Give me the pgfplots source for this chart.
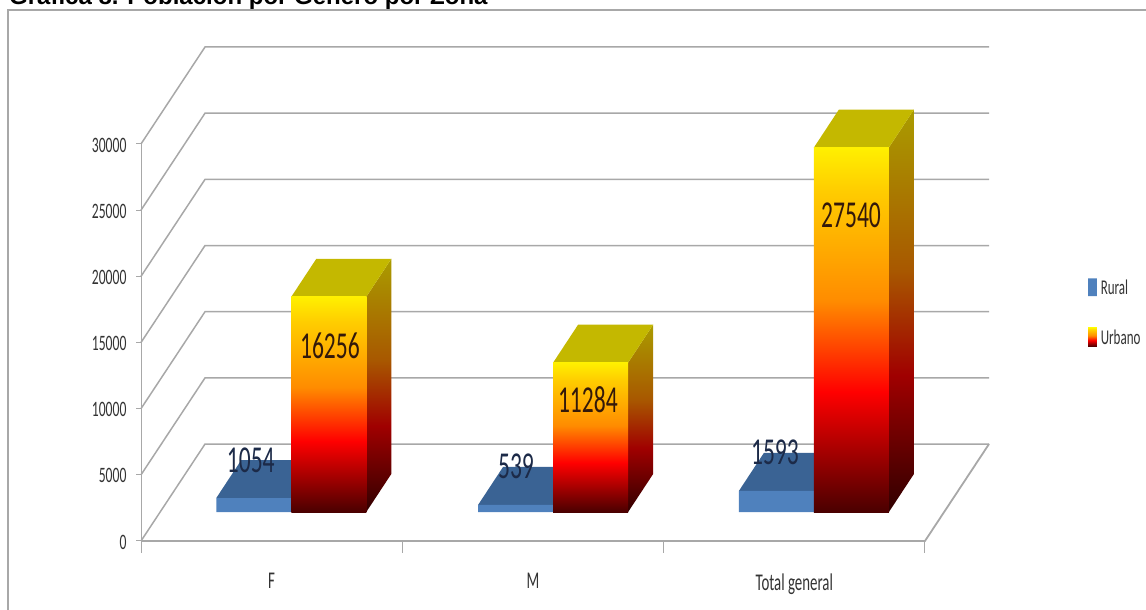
\documentclass[border=0pt]{standalone}
\usepackage{pgfplots}
\pgfplotsset{compat=1.18}
\usepackage{fontspec}
\setmainfont{Carlito}
\newfontfamily\narrow[FakeStretch=0.62]{Carlito}
\newfontfamily\titlefont{Liberation Sans}

\definecolor{gridgray}{HTML}{A8A8A8}
\definecolor{ruralfront}{HTML}{4F81BD}
\definecolor{ruraltop}{HTML}{3A6394}
\definecolor{urbantop}{HTML}{C4B800}
\definecolor{ruraltext}{HTML}{1C2A48}
\definecolor{urbantext}{HTML}{33190A}
\definecolor{uf0}{HTML}{4A0000}
\definecolor{uf1}{HTML}{FF0000}
\definecolor{uf2}{HTML}{FF8C00}
\definecolor{uf3}{HTML}{FFCC00}
\definecolor{uf4}{HTML}{FFF000}
\definecolor{us0}{HTML}{300000}
\definecolor{us1}{HTML}{A00000}
\definecolor{us2}{HTML}{A85800}
\definecolor{us3}{HTML}{AA9C00}

% Colour ramps for the urban column; the path is fitted to the 25bp--75bp band.
\pgfdeclareverticalshading{urbanfront}{100bp}{
  color(0bp)=(uf0);
  color(25bp)=(uf0);
  color(41.5bp)=(uf1);
  color(54bp)=(uf2);
  color(69bp)=(uf3);
  color(75bp)=(uf4);
  color(100bp)=(uf4)}
\pgfdeclareverticalshading{urbanside}{100bp}{
  color(0bp)=(us0);
  color(25bp)=(us0);
  color(42bp)=(us1);
  color(55bp)=(us2);
  color(75bp)=(us3);
  color(100bp)=(us3)}

% One oblique wall line and its back-wall continuation
\newcommand{\wallline}[1]{%
  \edef\ya{\the\numexpr #1\relax}\edef\yb{\the\numexpr #1+7326\relax}%
  \addplot[gridgray,line width=1.5pt,forget plot] coordinates {(0,\ya)(0.245,\yb)(3.245,\yb)};}

% Rural and urban columns of one category: left x, rural value, urban value
\newcommand{\columns}[3]{%
  \pgfmathsetmacro\xa{#1}%
  \pgfmathsetmacro\xb{#1+0.287}%
  \pgfmathsetmacro\xc{#1+0.574}%
  \pgfmathsetmacro\xab{#1+0.0957}%
  \pgfmathsetmacro\xbb{#1+0.287+0.0957}%
  \pgfmathsetmacro\xcb{#1+0.574+0.0957}%
  \edef\rf{\the\numexpr #2+2191\relax}\edef\rb{\the\numexpr #2+5063\relax}%
  \edef\uf{\the\numexpr #3+2191\relax}\edef\ub{\the\numexpr #3+5063\relax}%
  \addplot[fill=ruraltop,draw=none,forget plot] coordinates {(\xa,\rf)(\xb,\rf)(\xbb,\rb)(\xab,\rb)(\xa,\rf)};
  \addplot[fill=ruralfront,draw=none,forget plot] coordinates {(\xa,2191)(\xb,2191)(\xb,\rf)(\xa,\rf)(\xa,2191)};
  \addplot[shade,shading=urbanside,draw=none,forget plot] coordinates {(\xc,2191)(\xcb,5063)(\xcb,\ub)(\xc,\uf)(\xc,2191)};
  \addplot[fill=urbantop,draw=none,forget plot] coordinates {(\xb,\uf)(\xc,\uf)(\xcb,\ub)(\xbb,\ub)(\xb,\uf)};
  \addplot[shade,shading=urbanfront,draw=none,forget plot] coordinates {(\xb,2191)(\xc,2191)(\xc,\uf)(\xb,\uf)(\xb,2191)};}

\begin{document}
\begin{tikzpicture}[x=1pt,y=1pt]
\useasboundingbox (0,0) rectangle (1146,610);
% page heading and chart frame
\node[anchor=base west,inner sep=0pt,font=\titlefont\bfseries\fontsize{24}{24}\selectfont] at (9,605.5) {Gráfica 8. Población por Género por Zona};
\draw[gridgray,line width=1.6pt] (8,0) -- (8,600) -- (1146,600);
\begin{axis}[
  at={(141pt,69pt)},anchor=south west,
  scale only axis,width=848pt,height=494pt,
  xmin=0,xmax=3.245,ymin=0,ymax=37326,
  clip=false,
  axis line style={draw=none},
  scaled y ticks=false,
  xtick={0.5,1.5,2.5},
  xticklabels={F,M,Total general},
  xtick style={draw=none},
  xticklabel style={yshift=-24pt,font=\narrow\fontsize{24}{24}\selectfont},
  ytick={0,5000,...,30000},
  ytick pos=left,
  ytick style={gridgray,line width=1pt},
  yticklabel style={xshift=-6pt,yshift=-1pt,font=\narrow\fontsize{22}{22}\selectfont},
  major tick length=5pt,
  tick align=outside,
  /pgf/number format/assume math mode=true,
  /pgf/number format/1000 sep={},
  tick label style={text=black!80},
]
% walls and floor
\addplot[gridgray,line width=1pt,forget plot] coordinates {(0,0)(0,30000)};
\wallline{0}\wallline{5000}\wallline{10000}\wallline{15000}
\wallline{20000}\wallline{25000}\wallline{30000}
\addplot[gridgray,line width=1.8pt,forget plot] coordinates {(0,0)(3,0)(3.245,7326)};
% category separators below the floor
\addplot[gridgray,line width=1pt,forget plot] coordinates {(0,0)(0,-900)};
\addplot[gridgray,line width=1pt,forget plot] coordinates {(1,0)(1,-900)};
\addplot[gridgray,line width=1pt,forget plot] coordinates {(2,0)(2,-900)};
\addplot[gridgray,line width=1pt,forget plot] coordinates {(3,0)(3,-900)};
% columns
\columns{0.288}{1054}{16256}
\columns{1.290}{539}{11284}
\columns{2.288}{1593}{27540}
% value labels
\tikzset{vlabel/.style={inner sep=0pt,font=\narrow\fontsize{38}{38}\selectfont}}
\node[vlabel,text=ruraltext] at (axis cs:0.42,6121) {1054};
\node[vlabel,text=urbantext] at (axis cs:0.723,14737) {16256};
\node[vlabel,text=ruraltext] at (axis cs:1.435,5667) {539};
\node[vlabel,text=urbantext] at (axis cs:1.710,10655) {11284};
\node[vlabel,text=ruraltext] at (axis cs:2.426,6725) {1593};
\node[vlabel,text=urbantext] at (axis cs:2.717,24635) {27540};
% legend
\addplot[fill=ruralfront,draw=none,forget plot] coordinates {(3.624,18500)(3.658,18500)(3.658,19850)(3.624,19850)(3.624,18500)};
\addplot[shade,shading=urbanfront,draw=none,forget plot] coordinates {(3.624,14700)(3.658,14700)(3.658,16100)(3.624,16100)(3.624,14700)};
\tikzset{ltext/.style={anchor=west,inner sep=0pt,text=black!80,font=\narrow\fontsize{21}{21}\selectfont}}
\node[ltext] at (axis cs:3.672,19150) {Rural};
\node[ltext] at (axis cs:3.672,15400) {Urbano};
\end{axis}
\end{tikzpicture}
\end{document}
